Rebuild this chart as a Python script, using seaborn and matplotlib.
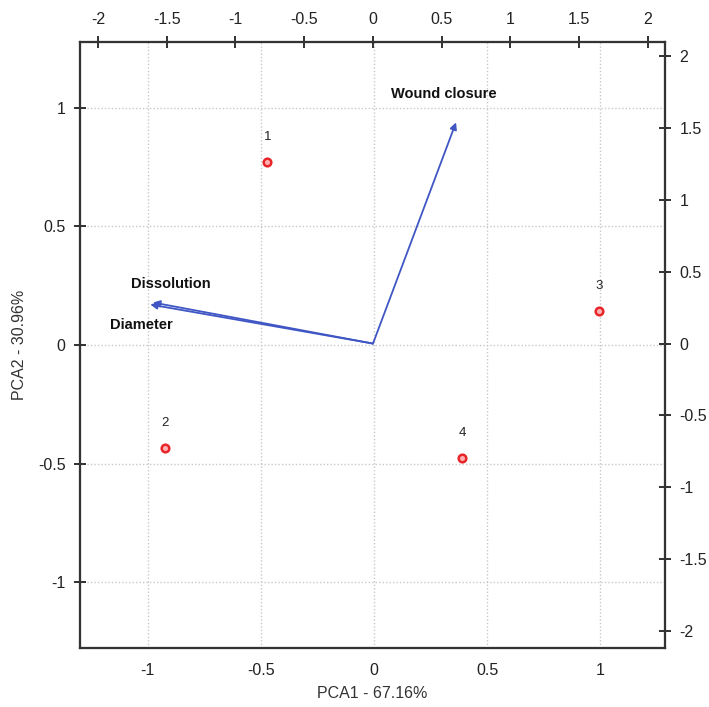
import matplotlib
matplotlib.use("Agg")
import matplotlib.pyplot as plt
import seaborn as sns
import pandas as pd

# Scores (bottom/left scale)
samples = ["1", "2", "3", "4"]
pc1 = [-0.472, -0.923, 0.993, 0.389]
pc2 = [0.772, -0.435, 0.143, -0.477]

# Loadings (top/right scale)
variables = ["Wound closure", "Dissolution", "Diameter"]
load1 = [0.604, -1.60, -1.62]
load2 = [1.54, 0.286, 0.272]

bottom_ticks = [-1, -0.5, 0, 0.5, 1]
left_ticks = [-1, -0.5, 0, 0.5, 1]
top_ticks = [-2, -1.5, -1, -0.5, 0, 0.5, 1, 1.5, 2]
right_ticks = [-2, -1.5, -1, -0.5, 0, 0.5, 1, 1.5, 2]

sns.set_theme(style="white")
plt.rcParams['font.family'] = ['Liberation Sans', 'DejaVu Sans']

fig = plt.figure(figsize=(7.09, 7.07), dpi=100)
ax = fig.add_axes([80/709, 59/707, 585/709, 606/707])
ax.set_xlim(-1.299, 1.285)
ax.set_ylim(-1.278, 1.278)

df = pd.DataFrame({"PC1": pc1, "PC2": pc2, "sample": samples})
sns.scatterplot(data=df, x="PC1", y="PC2", ax=ax, s=30, color="#ffb0b0",
                edgecolor="#e8262a", linewidth=1.8, zorder=5, legend=False)
for s, x, y in zip(samples, pc1, pc2):
    ax.text(x, y + 0.105, s, ha="center", va="center", fontsize=9.5, color="#222222")

ax.set_xticks(bottom_ticks)
ax.set_yticks(left_ticks)
ax.set_xticklabels([f"{t:g}" for t in bottom_ticks])
ax.set_yticklabels([f"{t:g}" for t in left_ticks])
ax.grid(True, color="#c8c8c8", linestyle=(0, (1, 1.5)), linewidth=1.0)
ax.set_axisbelow(True)
ax.tick_params(direction="inout", length=9, width=1.3, color="#222222",
               labelsize=11.5, labelcolor="#222222", pad=6)
for sp in ax.spines.values():
    sp.set_color("#333333")
    sp.set_linewidth(1.5)
ax.set_xlabel("PCA1 - 67.16%", fontsize=11.5, color="#333333", labelpad=6)
ax.set_ylabel("PCA2 - 30.96%", fontsize=11.5, color="#333333", labelpad=8)

# Secondary axes for loadings (top / right scales)
axr = ax.twinx()
axr.set_ylim(-2.12, 2.10)
axr.set_yticks(right_ticks)
axr.set_yticklabels([f"{t:g}" for t in right_ticks])
axr.tick_params(direction="inout", length=9, width=1.3, color="#222222",
                labelsize=11.5, labelcolor="#222222", pad=6)
axr.grid(False)
axt = axr.twiny()
axt.set_xlim(-2.131, 2.124)
axt.set_xticks(top_ticks)
axt.set_xticklabels([f"{t:g}" for t in top_ticks])
axt.tick_params(direction="inout", length=9, width=1.3, color="#222222",
                labelsize=11.5, labelcolor="#222222", pad=6)
axt.grid(False)
for a in (axr, axt):
    for sp in a.spines.values():
        sp.set_color("#333333")
        sp.set_linewidth(1.5)

arrow_color = "#3f56c4"
for name, lx, ly in zip(variables, load1, load2):
    axt.annotate("", xy=(lx, ly), xytext=(0, 0),
                 arrowprops=dict(arrowstyle="-|>", color=arrow_color, lw=1.3,
                                 mutation_scale=10, shrinkA=0, shrinkB=0))

axt.text(0.13, 1.735, "Wound closure", fontsize=10.5, fontweight="bold", color="#111111",
         ha="left", va="center")
axt.text(-1.76, 0.418, "Dissolution", fontsize=10.5, fontweight="bold", color="#111111",
         ha="left", va="center")
axt.text(-1.913, 0.132, "Diameter", fontsize=10.5, fontweight="bold", color="#111111",
         ha="left", va="center")

fig.savefig("out.png", dpi=100)
